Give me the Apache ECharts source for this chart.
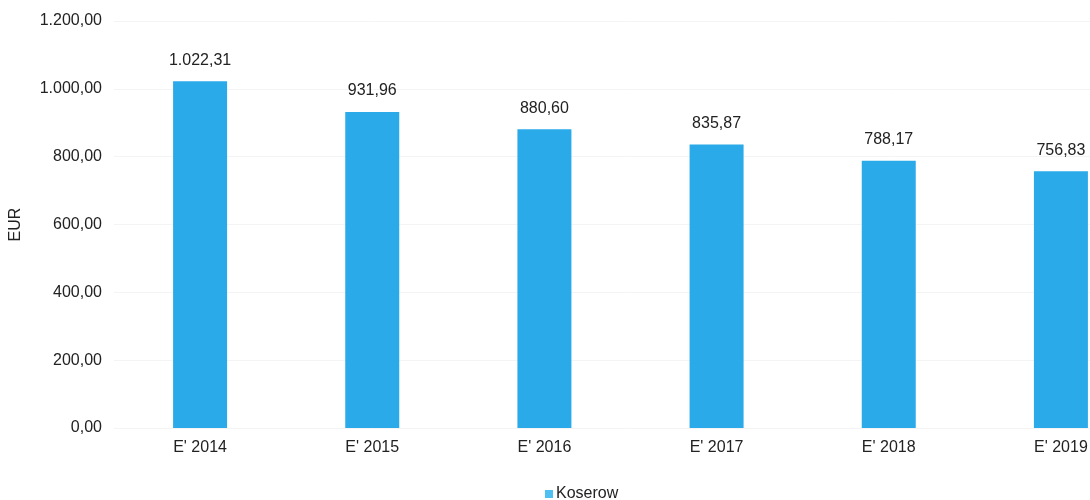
<!DOCTYPE html>
<html>
<head>
<meta charset="utf-8">
<style>
  html, body { margin: 0; padding: 0; background: #fff; overflow: hidden; width: 1090px; height: 500px; }
  /* the canvas is wider than the page; the last column runs past the right edge */
  #chart { width: 1147px; height: 500px; }
</style>
<script src="https://cdn.jsdelivr.net/npm/echarts@6/dist/echarts.min.js"></script>
</head>
<body>
<div id="chart"></div>
<script>
// Average price per year (EUR)
const categories = ["E' 2014", "E' 2015", "E' 2016", "E' 2017", "E' 2018", "E' 2019"];
const koserow = [1022.31, 931.96, 880.60, 835.87, 788.17, 756.83];
const seriesName = 'Koserow';

// German number format: 1.234,56
function fmt(v) {
  const parts = Number(v).toFixed(2).split('.');
  parts[0] = parts[0].replace(/\B(?=(\d{3})+(?!\d))/g, '.');
  return parts[0] + ',' + parts[1];
}

const font = '"Liberation Sans", Arial, sans-serif';
const chart = echarts.init(document.getElementById('chart'), null, { renderer: 'canvas' });

chart.setOption({
  animation: false,
  backgroundColor: '#ffffff',
  textStyle: { fontFamily: font },
  grid: { left: 111, top: 21, right: 0, bottom: 72, containLabel: false },
  legend: {
    top: 481,
    left: 540,
    itemWidth: 8,
    itemHeight: 8,
    itemGap: 4,
    icon: 'rect',
    textStyle: { fontSize: 16, color: '#222', fontFamily: font, padding: [0, 0, 0, -2] },
    data: [{ name: seriesName, itemStyle: { color: '#4fc0f2' } }]
  },
  xAxis: {
    type: 'category',
    data: categories,
    axisLine: { show: false },
    axisTick: { show: false },
    axisLabel: { fontSize: 16, color: '#222', margin: 12, fontFamily: font }
  },
  yAxis: {
    type: 'value',
    name: 'EUR',
    nameLocation: 'middle',
    nameGap: 90,
    nameRotate: 90,
    nameTextStyle: { fontSize: 16, color: '#222', fontFamily: font },
    min: 0,
    max: 1200,
    interval: 200,
    axisLine: { show: false },
    axisTick: { show: false },
    splitLine: { show: true, lineStyle: { color: '#f4f4f4', width: 1 } },
    axisLabel: { fontSize: 16, color: '#222', margin: 12, fontFamily: font, formatter: fmt }
  },
  series: [{
    name: seriesName,
    type: 'bar',
    data: koserow,
    barWidth: 54,
    itemStyle: { color: '#2aaae8' },
    label: {
      show: true,
      position: 'top',
      distance: 13,
      fontSize: 16,
      color: '#222',
      fontFamily: font,
      formatter: p => fmt(p.value)
    }
  }]
});
</script>
</body>
</html>
